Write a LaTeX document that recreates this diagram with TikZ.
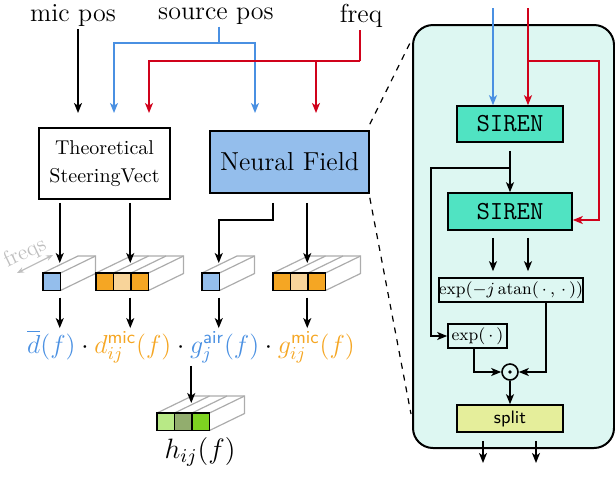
\RequirePackage{fix-cm}
\documentclass[tikz,border=0pt]{standalone}
\usepackage{fontspec}
\usepackage{amsmath}
\usetikzlibrary{arrows.meta,positioning}

\definecolor{cblue}{HTML}{4A90E2}
\definecolor{cred}{HTML}{D0021B}
\definecolor{corange}{HTML}{F5A623}
\definecolor{clorange}{HTML}{F8D49A}
\definecolor{cfill}{HTML}{94BEEC}
\definecolor{cgreenA}{HTML}{B8E986}
\definecolor{cgreenB}{HTML}{92AD6E}
\definecolor{cgreenC}{HTML}{7ED321}
\definecolor{csiren}{HTML}{50E3C2}
\definecolor{cpanel}{HTML}{DDF7F2}
\definecolor{csplit}{HTML}{E5EE9B}

% tensor: name, left x, top y, number of cells, cell colours
\newcommand{\tens}[5]{%
  \begin{scope}[shift={(#2,#3)}]
    \foreach \k in {0,...,#4}
      \draw[depth] (17.5*\k,0) -- ++(35,-17);
    \draw[depth] (35,-17) -- ++(17.5*#4,0) -- ++(0,17.5) -- (17.5*#4,17.5);
    \foreach \c [count=\i] in {#5}
      \node[cell, fill=\c] (#1-\i) at (17.5*\i-8.75,8.75) {};
    \coordinate (#1-in) at (8.75*#4+8,-10);
    \coordinate (#1-out) at (8.75*#4+8,24.5);
  \end{scope}}

\begin{document}
\begin{tikzpicture}[x=0.5pt,y=-0.5pt,
    arr/.style={-{Stealth[length=5pt,width=4pt,inset=1.3pt]}, line width=0.8pt},
    barr/.style={arr, cblue, line width=0.7pt},
    rarr/.style={arr, cred, line width=0.7pt},
    lbl/.style={inner sep=1pt, font=\fontsize{13}{15}\selectfont},
    box/.style={draw, line width=0.8pt, inner sep=0pt},
    cell/.style={draw, line width=0.7pt, minimum size=8.75pt, inner sep=0pt},
    depth/.style={gray!65, line width=0.6pt}]

  \useasboundingbox (0,0) rectangle (615,478);

  % zoomed neural field
  \node[draw, line width=1pt, rounded corners=10pt, fill=cpanel, minimum width=100.5pt, minimum height=211.5pt] (panel) at (513.5,236.5) {};

  % inputs
  \node[lbl] (mic) at (73,16) {mic pos};
  \node[lbl] (src) at (216,16) {source pos};
  \node[lbl] (frq) at (361,16) {freq};

  \node[box, minimum width=65.5pt, minimum height=35.5pt, align=center, font=\fontsize{10}{14}\selectfont] (tsv) at (104.5,163.5) {Theoretical\\SteeringVect};
  \node[box, fill=cfill, minimum width=79.5pt, minimum height=31pt, font=\fontsize{13}{15}\selectfont] (nf) at (289.5,162) {Neural Field};

  \coordinate (tsvM) at (78,113);
  \coordinate (tsvB) at (114,113);
  \coordinate (tsvR) at (149,113);
  \coordinate (nfB) at (255,113);
  \coordinate (nfR) at (316,113);
  \coordinate (sb) at (219,43);
  \coordinate (rb) at (360,61);

  \draw[arr] (mic.south -| tsvM) -- (tsvM);
  \draw[cblue, line width=0.7pt] (src.south -| sb) -- (sb);
  \draw[barr] (sb) -| (tsvB);
  \draw[barr] (sb) -| (nfB);
  \draw[cred, line width=0.7pt] (frq.south -| rb) -- (rb);
  \draw[rarr] (rb) -| (tsvR);
  \draw[rarr] (rb) -| (nfR);

  % feature tensors
  \tens{t1}{43}{273}{1}{cfill}
  \tens{t2}{96}{273}{3}{corange,clorange,corange}
  \tens{t3}{202}{273}{1}{cfill}
  \tens{t4}{273}{273}{3}{corange,clorange,corange}
  \tens{t5}{157}{413}{3}{cgreenA,cgreenB,cgreenC}

  \coordinate (fqa) at (17,273);
  \coordinate (fqb) at (53,255);
  \draw[gray!50, line width=0.6pt, {Stealth[length=3.5pt,width=2.8pt]}-{Stealth[length=3.5pt,width=2.8pt]}] (fqa) -- (fqb);
  \node[rotate=26, text=gray!50, inner sep=0pt, font=\fontsize{11}{12}\selectfont] (fq) at (25,253) {freqs};

  \draw[arr, shorten <=1.5pt] (tsv.south -| t1-in) -- (t1-in);
  \draw[arr, shorten <=1.5pt] (tsv.south -| t2-in) -- (t2-in);
  \draw[arr, shorten <=4.5pt] ([xshift=-8.25pt]nf.south) -- ++(0,26) -| (t3-in);
  \draw[arr, shorten <=4.5pt] (nf.south -| t4-in) -- (t4-in);

  % product
  \node[inner sep=1pt, font=\fontsize{13}{15}\selectfont] (prod) at (191,347) {$\textcolor{cblue}{\overline{d}(f)}\cdot\textcolor{corange}{d_{ij}^{\textsf{mic}}(f)}\cdot\textcolor{cblue}{g_j^{\textsf{air}}(f)}\cdot\textcolor{corange}{g_{ij}^{\textsf{mic}}(f)}$};
  \foreach \t in {t1,t2,t3,t4}
    \draw[arr] (\t-out) -- (\t-out |- prod.north);
  \draw[arr] (prod.south -| t5-in) -- (t5-in);
  \node[lbl, font=\fontsize{14}{16}\selectfont] (h) at (200,452) {$h_{ij}(f)$};

  % inside the neural field
  \coordinate (pinB) at (493,8);
  \coordinate (pinR) at (528,8);
  \coordinate (rb2) at (528,61);
  \node[box, fill=csiren, minimum width=53pt, minimum height=18pt, font=\fontsize{13}{15}\selectfont\ttfamily] (s1) at (510,124) {SIREN};
  \node[box, fill=csiren, minimum width=62pt, minimum height=18.5pt, font=\fontsize{13}{15}\selectfont\ttfamily] (s2) at (510,211.5) {SIREN};
  \node[box, minimum width=65pt, minimum height=12pt, font=\fontsize{8.5}{9}\selectfont] (expb) at (511,290) {$\exp(-j\,\mathrm{atan}(\,\cdot\,,\,\cdot\,))$};
  \node[box, minimum width=29.5pt, minimum height=12pt, font=\fontsize{8.5}{9}\selectfont] (expa) at (477.5,336) {$\exp(\,\cdot\,)$};
  \node[draw, circle, line width=0.8pt, minimum size=8pt, inner sep=0pt] (odot) at (510,372) {};
  \fill (odot.center) circle (0.9pt);
  \node[box, fill=csplit, minimum width=53pt, minimum height=13.5pt, font=\fontsize{9}{10}\selectfont\sffamily] (split) at (510,418.5) {split};
  \coordinate (outA) at (483,463);
  \coordinate (outB) at (536,463);

  \draw[barr] (pinB) -- (pinB |- s1.north);
  \draw[rarr] (pinR) -- (pinR |- s1.north);
  \draw[rarr] (rb2) -- ++(71,0) |- ([yshift=-4.25pt]s2.east);
  \draw[arr, shorten <=4pt] (s1) -- (s2);
  \draw[arr] ([yshift=-12.5pt]s1.south) -- ++(-79,0) |- (expa.west);
  \draw[arr, shorten <=3.5pt, shorten >=3pt] (s2.south -| pinB) -- (expb.north -| pinB);
  \draw[arr, shorten <=3.5pt, shorten >=3pt] (s2.south -| pinR) -- (expb.north -| pinR);
  \draw[arr] ([xshift=-1.75pt]expa.south) |- (odot.west);
  \draw[arr] ([xshift=17.5pt]expb.south) |- (odot.east);
  \draw[arr] (odot) -- (split);
  \draw[arr, shorten <=4pt] (split.south -| outA) -- (outA);
  \draw[arr, shorten <=4pt] (split.south -| outB) -- (outB);

  % zoom lines
  \coordinate (z1) at (410,43);
  \coordinate (z2) at (411,414);
  \draw[dashed, line width=0.6pt] ([yshift=3pt]nf.north east) -- (z1);
  \draw[dashed, line width=0.6pt] ([yshift=-2pt]nf.south east) -- (z2);
\end{tikzpicture}
\end{document}
